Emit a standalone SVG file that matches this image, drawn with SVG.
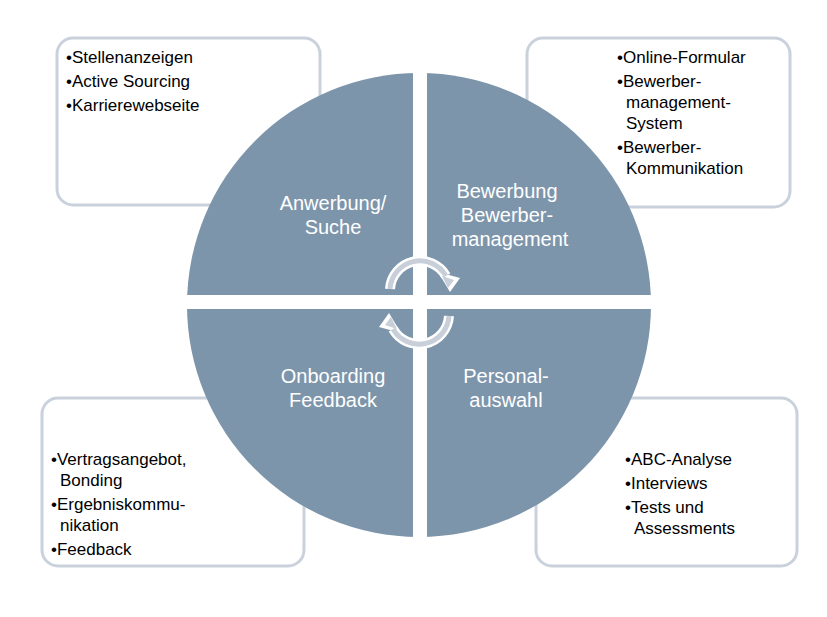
<svg xmlns="http://www.w3.org/2000/svg" width="827" height="617" viewBox="0 0 827 617">
<style>
.box{fill:#fff;stroke:#c9d2dc;stroke-width:3}
.t{font-family:"Liberation Sans",Arial,sans-serif;font-size:17px;fill:#000}
.q{font-family:"Liberation Sans",Arial,sans-serif;font-size:20px;fill:#fff;text-anchor:middle}
.arc{fill:none;stroke:#fff;stroke-width:10}
.arci{fill:none;stroke:#c8cfd8;stroke-width:5}
</style>
<rect width="827" height="617" fill="#fff"/>
<g id="box-tl"><rect class="box" x="57" y="38" width="263" height="167" rx="16"/>
<text class="t" x="66" y="63">•Stellenanzeigen</text><text class="t" x="66" y="87">•Active Sourcing</text><text class="t" x="66" y="111">•Karrierewebseite</text></g>
<g id="box-tr"><rect class="box" x="527" y="38" width="263" height="169" rx="16"/>
<text class="t" x="617" y="63">•Online-Formular</text><text class="t" x="617" y="87">•Bewerber-</text><text class="t" x="626" y="108">management-</text><text class="t" x="626" y="129">System</text><text class="t" x="617" y="153">•Bewerber-</text><text class="t" x="626" y="174">Kommunikation</text></g>
<g id="box-bl"><rect class="box" x="42" y="398" width="262" height="168" rx="16"/>
<text class="t" x="51" y="465">•Vertragsangebot,</text><text class="t" x="60" y="486">Bonding</text><text class="t" x="51" y="510">•Ergebniskommu-</text><text class="t" x="60" y="531">nikation</text><text class="t" x="51" y="555">•Feedback</text></g>
<g id="box-br"><rect class="box" x="536" y="398" width="261" height="168" rx="16"/>
<text class="t" x="625" y="465">•ABC-Analyse</text><text class="t" x="625" y="489">•Interviews</text><text class="t" x="625" y="513">•Tests und</text><text class="t" x="634" y="534">Assessments</text></g>
<g id="circle">
<circle cx="419" cy="305" r="232" fill="#7d95ab"/>
<rect x="413" y="70" width="14" height="470" fill="#fff"/>
<rect x="180" y="295" width="480" height="14" fill="#fff"/>
</g>
<g id="q-tl"><text class="q" x="333" y="210">Anwerbung/</text><text class="q" x="333" y="234">Suche</text></g>
<g id="q-tr"><text class="q" x="507" y="198">Bewerbung</text><text class="q" x="507" y="222">Bewerber-</text><text class="q" x="510" y="246">management</text></g>
<g id="q-bl"><text class="q" x="333" y="383">Onboarding</text><text class="q" x="333" y="407">Feedback</text></g>
<g id="q-br"><text class="q" x="506" y="383">Personal-</text><text class="q" x="506" y="407">auswahl</text></g>
<g id="connectors">
<path class="arc" d="M390 289 A30 30 0 0 1 446 276"/>
<polygon points="438,272 460,278 450,292" fill="#fff"/>
<path class="arci" d="M390 289 A30 30 0 0 1 446 276"/>
<polygon points="442,276 454,280 448,288" fill="#c8cfd8"/>
<path class="arc" d="M449 316 A30 30 0 0 1 393 329"/>
<polygon points="401,333 379,327 389,313" fill="#fff"/>
<path class="arci" d="M449 316 A30 30 0 0 1 393 329"/>
<polygon points="397,329 385,325 391,317" fill="#c8cfd8"/>
</g>
</svg>
